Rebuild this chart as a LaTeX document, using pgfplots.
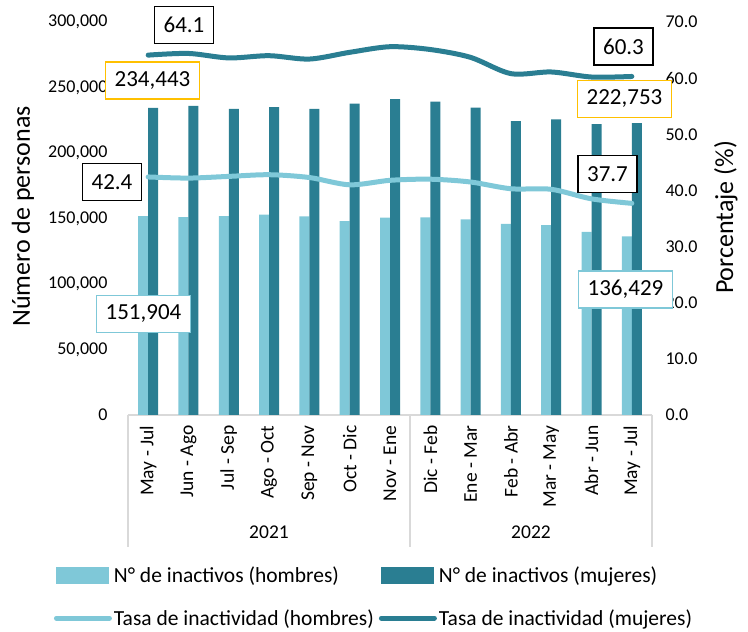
\documentclass[border=0pt]{standalone}
\usepackage{fontspec}
\setmainfont{Carlito}
\usepackage{pgfplots}
\pgfplotsset{compat=1.18}
\definecolor{lightb}{HTML}{7FC8D8}
\definecolor{darkb}{HTML}{2A7E92}
\definecolor{gold}{HTML}{FFC000}
\definecolor{axgray}{HTML}{D9D9D9}
\pgfplotsset{
  barleg/.style={legend image code/.code={\fill[##1] (0pt,-8.5pt) rectangle (53pt,8.5pt);}},
  lineleg/.style={legend image code/.code={\draw[##1, line cap=round] (0pt,0pt) -- (53pt,0pt);}},
}
\newcommand{\tickfont}{\fontsize{18}{21}\selectfont}
\newcommand{\catfont}{\fontsize{19.5}{22}\selectfont}
\begin{document}
\begin{tikzpicture}[x=1pt,y=1pt]
\useasboundingbox (0,0) rectangle (748,632);
\begin{axis}[
  at={(128pt,217pt)}, anchor=south west,
  scale only axis, width=524pt, height=393pt,
  xmin=-0.5, xmax=12.5, ymin=0, ymax=300000,
  axis x line*=bottom, axis y line*=left,
  x axis line style={draw=axgray, line width=1.2pt, -},
  y axis line style={draw=none},
  major tick length=0pt,
  xtick={0,...,12},
  xticklabels={May - Jul, Jun - Ago, Jul - Sep, Ago - Oct, Sep - Nov, Oct - Dic, Nov - Ene, Dic - Feb, Ene - Mar, Feb - Abr, Mar - May, Abr - Jun, May - Jul},
  xticklabel shift=6pt,
  xticklabel style={rotate=90, anchor=east, font=\catfont, xshift=-1pt},
  ytick={0,50000,...,300000},
  scaled y ticks=false,
  yticklabel style={font=\tickfont, xshift=-17pt},
  /pgf/number format/fixed,
  /pgf/number format/1000 sep={,},
  /pgf/number format/assume math mode=true,
]
\addplot[ybar, bar width=10pt, bar shift=-5pt, fill=lightb, draw=none] coordinates {
(0,151904) (1,151100) (2,151900) (3,152900) (4,151700) (5,147900) (6,150600)
(7,150900) (8,149400) (9,145800) (10,145000) (11,139700) (12,136429)};
\addplot[ybar, bar width=10pt, bar shift=5pt, fill=darkb, draw=none] coordinates {
(0,234443) (1,235900) (2,233600) (3,235100) (4,233600) (5,237600) (6,241200)
(7,239200) (8,234600) (9,224400) (10,225700) (11,222100) (12,222753)};
\end{axis}
\begin{axis}[
  at={(128pt,217pt)}, anchor=south west,
  scale only axis, width=524pt, height=393pt,
  xmin=-0.5, xmax=12.5, ymin=0, ymax=70,
  hide x axis,
  axis y line*=right,
  y axis line style={draw=none},
  major tick length=0pt,
  ytick={0,10,...,70},
  yticklabel style={font=\tickfont, xshift=10pt},
  /pgf/number format/fixed,
  /pgf/number format/fixed zerofill,
  /pgf/number format/precision=1,
  /pgf/number format/assume math mode=true,
  legend columns=2,
  legend style={at={(0.4676,-0.4631)}, anchor=center, draw=none, fill=none,
    font=\fontsize{21.5}{25}\selectfont,
    row sep=21pt,
    nodes={inner xsep=0pt},
    /tikz/every odd column/.append style={column sep=2pt},
    /tikz/every even column/.append style={column sep=5pt}},
  legend cell align=left,
]
\addlegendimage{barleg, fill=lightb, draw=none}
\addlegendentry{N° de inactivos (hombres)}
\addlegendimage{barleg, fill=darkb, draw=none}
\addlegendentry{N° de inactivos (mujeres)}
\addplot[lightb, line width=5pt, smooth, line cap=round, lineleg] coordinates {
(0,42.4) (1,42.2) (2,42.5) (3,42.8) (4,42.3) (5,41.0) (6,41.8)
(7,42.0) (8,41.5) (9,40.3) (10,40.2) (11,38.5) (12,37.7)};
\addlegendentry{Tasa de inactividad (hombres)}
\addplot[darkb, line width=5pt, smooth, line cap=round, lineleg] coordinates {
(0,64.1) (1,64.4) (2,63.6) (3,64.0) (4,63.4) (5,64.6) (6,65.6)
(7,65.1) (8,63.7) (9,60.8) (10,61.1) (11,60.2) (12,60.3)};
\addlegendentry{Tasa de inactividad (mujeres)}
\end{axis}
% category frame
\draw[axgray, line width=1.2pt] (128,217) -- (128,85);
\draw[axgray, line width=1.2pt] (410,217) -- (410,85);
\draw[axgray, line width=1.2pt] (652,217) -- (652,85);
\node[font=\catfont] at (269,100) {2021};
\node[font=\catfont] at (531,100) {2022};
% axis titles
\node[font=\fontsize{26}{30}\selectfont, rotate=90, anchor=base] at (30,415.5) {Número de personas};
\node[font=\fontsize{26}{30}\selectfont, rotate=90, anchor=base] at (733,414.5) {Porcentaje (\%)};
% data labels
\tikzset{lab/.style={fill=white, line width=1.5pt, inner xsep=9pt, minimum height=37pt, font=\fontsize{23}{27}\selectfont}}
\node[lab, draw=black] at (184,607) {64.1};
\node[lab, draw=gold] at (152.5,551.5) {234,443};
\node[lab, draw=black] at (112,450) {42.4};
\node[lab, draw=lightb] at (143.5,318) {151,904};
\node[lab, draw=black] at (623.5,585.5) {60.3};
\node[lab, draw=gold] at (624.5,533) {222,753};
\node[lab, draw=black] at (607.5,458) {37.7};
\node[lab, draw=lightb] at (625.5,342.5) {136,429};
\end{tikzpicture}
\end{document}
